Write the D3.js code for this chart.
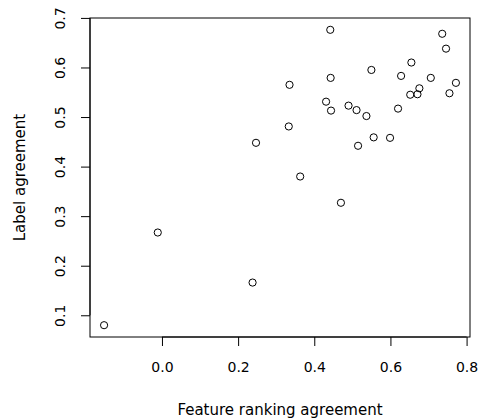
<!DOCTYPE html>
<html>
<head>
<meta charset="utf-8">
<script src="https://cdn.jsdelivr.net/npm/d3@7"></script>
<style>
  body { margin: 0; background: #fff; }
  text { font-family: "DejaVu Sans", sans-serif; font-size: 15px; fill: #000; }
</style>
</head>
<body>
<div id="chart"></div>
<script>
// datos
const featureAgreement = [
  0.442, 0.736, 0.746, 0.655, 0.550, 0.335, 0.443, 0.628, 0.706, 0.772,
  0.676, 0.671, 0.652, 0.755, 0.431, 0.444, 0.490, 0.511, 0.537, 0.620,
  0.333, 0.247, 0.556, 0.599, 0.515, 0.363, 0.470, 0.238, -0.011, -0.152
]
const labelAgreement = [
  0.676, 0.668, 0.638, 0.610, 0.595, 0.565, 0.579, 0.583, 0.579, 0.569,
  0.558, 0.546, 0.545, 0.548, 0.531, 0.513, 0.523, 0.514, 0.502, 0.517,
  0.481, 0.448, 0.459, 0.458, 0.442, 0.380, 0.327, 0.166, 0.267, 0.080
]
const xTicks = [0.0, 0.2, 0.4, 0.6, 0.8]
const yTicks = [0.1, 0.2, 0.3, 0.4, 0.5, 0.6, 0.7]

const width = 484
const height = 419
const margin = { top: 18, right: 14, bottom: 82, left: 90 }
const innerW = width - margin.left - margin.right
const innerH = height - margin.top - margin.bottom

const svg = d3.select("div#chart")
  .append("svg")
  .attr("width", width)
  .attr("height", height)

// escalas con la extension del 4% estilo R
const pad = (ext) => {
  const r = ext[1] - ext[0]
  return [ext[0] - 0.04 * r, ext[1] + 0.04 * r]
}
const x = d3.scaleLinear()
  .domain(pad(d3.extent(featureAgreement)))
  .range([0, innerW])
const y = d3.scaleLinear()
  .domain(pad(d3.extent(labelAgreement)))
  .range([innerH, 0])

const g = svg.append("g")
  .attr("transform", `translate(${margin.left}, ${margin.top})`)

// caja
g.append("rect")
  .attr("x", 0).attr("y", 0)
  .attr("width", innerW).attr("height", innerH)
  .attr("fill", "none").attr("stroke", "#000").attr("stroke-width", 1)

// ejes
const xAxis = d3.axisBottom(x).tickValues(xTicks).tickFormat(d3.format(".1f")).tickSize(9).tickPadding(16)
const yAxis = d3.axisLeft(y).tickValues(yTicks).tickFormat(d3.format(".1f")).tickSize(9).tickPadding(8)

const xAxisGroup = g.append("g")
  .attr("transform", `translate(0, ${innerH})`)
  .call(xAxis)
xAxisGroup.select(".domain").attr("d", `M${x(0)},0H${x(0.8)}`)

const yAxisGroup = g.append("g").call(yAxis)
yAxisGroup.select(".domain").attr("d", `M0,${y(0.1)}V${y(0.7)}`)
yAxisGroup.selectAll(".tick text")
  .attr("x", null).attr("dy", null)
  .attr("text-anchor", "middle")
  .attr("transform", "translate(-25,0) rotate(-90)")

svg.selectAll(".domain, .tick line").attr("stroke", "#000").attr("stroke-width", 1)
svg.selectAll(".tick text").style("font-size", "14px").attr("fill", "#000")

// puntos
g.selectAll("circle")
  .data(featureAgreement)
  .enter()
  .append("circle")
  .attr("cx", (d) => x(d))
  .attr("cy", (d, i) => y(labelAgreement[i]))
  .attr("r", 3.6)
  .attr("fill", "none")
  .attr("stroke", "#000")
  .attr("stroke-width", 1)

// titulos
svg.append("text")
  .attr("x", margin.left + innerW / 2)
  .attr("y", 415)
  .attr("text-anchor", "middle")
  .text("Feature ranking agreement")

svg.append("text")
  .attr("transform", `translate(25, ${margin.top + innerH / 2}) rotate(-90)`)
  .attr("text-anchor", "middle")
  .text("Label agreement")
</script>
</body>
</html>
